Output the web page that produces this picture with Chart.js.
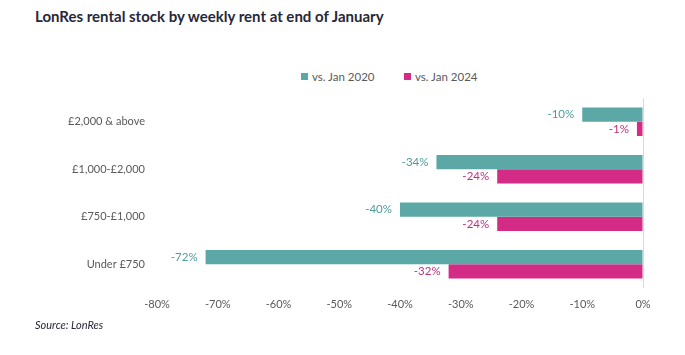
<!DOCTYPE html>
<html>
<head>
<meta charset="utf-8">
<script src="https://cdn.jsdelivr.net/npm/chart.js@4"></script>
<style>
  html, body { margin:0; padding:0; background:#fff; }
  #wrap { position:relative; width:685px; height:355px; overflow:hidden; font-family: Lato, "Open Sans", sans-serif; }
  #title { position:absolute; left:35px; top:7px; font-size:15px; font-weight:bold; color:#27273a; white-space:nowrap; }
  #legend { position:absolute; top:68px; left:0; width:685px; height:16px; font-size:11.5px; color:#595959; }
  .li { position:absolute; top:0; display:flex; align-items:center; height:16px; white-space:nowrap; }
  .sw { width:7px; height:7px; margin-right:4px; }
  #source { position:absolute; left:35px; top:318px; font-size:11px; font-style:italic; color:#27273a; }
  canvas { position:absolute; left:0; top:0; }
</style>
</head>
<body>
<div id="wrap">
  <div id="title">LonRes rental stock by weekly rent at end of January</div>
  <div id="legend"></div>
  <canvas id="c" width="685" height="355"></canvas>
  <div id="source">Source: LonRes</div>
</div>
<script>
const categories = ["£2,000 & above", "£1,000-£2,000", "£750-£1,000", "Under £750"];
const seriesNames = ["vs. Jan 2020", "vs. Jan 2024"];
const vsJan2020 = [-10, -34, -40, -72];
const vsJan2024 = [-1, -24, -24, -32];
const xTicks = [-80, -70, -60, -50, -40, -30, -20, -10, 0];

const barColors = ["#5BA8A6", "#D42B86"];
const labelColors = ["#4E9D9B", "#C2307F"];

// HTML legend
const legendEl = document.getElementById('legend');
const legendX = [301, 404];
seriesNames.forEach((n, i) => {
  const d = document.createElement('div');
  d.className = 'li';
  d.style.left = legendX[i] + 'px';
  d.innerHTML = '<div class="sw" style="background:' + barColors[i] + '"></div><span>' + n + '</span>';
  legendEl.appendChild(d);
});

const valueLabels = {
  id: 'valueLabels',
  afterDatasetsDraw(chart) {
    const ctx = chart.ctx;
    ctx.save();
    ctx.font = '11.5px Lato, "Open Sans", sans-serif';
    ctx.textAlign = 'right';
    ctx.textBaseline = 'middle';
    chart.data.datasets.forEach((ds, di) => {
      const meta = chart.getDatasetMeta(di);
      ctx.fillStyle = labelColors[di];
      meta.data.forEach((el, i) => {
        ctx.fillText(ds.data[i] + '%', el.x - 8, el.y);
      });
    });
    ctx.restore();
  }
};

new Chart(document.getElementById('c'), {
  type: 'bar',
  data: {
    labels: categories,
    datasets: [
      { label: seriesNames[0], data: vsJan2020, backgroundColor: barColors[0], categoryPercentage: 0.6, barPercentage: 1.0 },
      { label: seriesNames[1], data: vsJan2024, backgroundColor: barColors[1], categoryPercentage: 0.6, barPercentage: 1.0 }
    ]
  },
  options: {
    indexAxis: 'y',
    responsive: false,
    animation: false,
    devicePixelRatio: 1,
    layout: { padding: { top: 98, right: 42, bottom: 37, left: 0 } },
    plugins: { legend: { display: false }, title: { display: false }, tooltip: { enabled: false } },
    scales: {
      x: {
        min: -80, max: 0,
        afterBuildTicks(scale) { scale.ticks = xTicks.map(v => ({ value: v })); },
        afterFit(scale) { scale.height = 30; },
        ticks: {
          padding: 10,
          color: '#595959',
          font: { family: 'Lato, "Open Sans", sans-serif', size: 11 },
          callback: v => v + '%'
        },
        grid: {
          drawTicks: false,
          color: ctx => (ctx.tick && ctx.tick.value === 0) ? '#d9d9d9' : 'rgba(0,0,0,0)',
          lineWidth: 1
        },
        border: { display: false }
      },
      y: {
        afterFit(scale) { scale.width = 157; },
        ticks: {
          padding: 12,
          color: '#595959',
          font: { family: 'Lato, "Open Sans", sans-serif', size: 11 }
        },
        grid: { display: false, drawTicks: false },
        border: { display: false }
      }
    }
  },
  plugins: [valueLabels]
});
</script>
</body>
</html>
